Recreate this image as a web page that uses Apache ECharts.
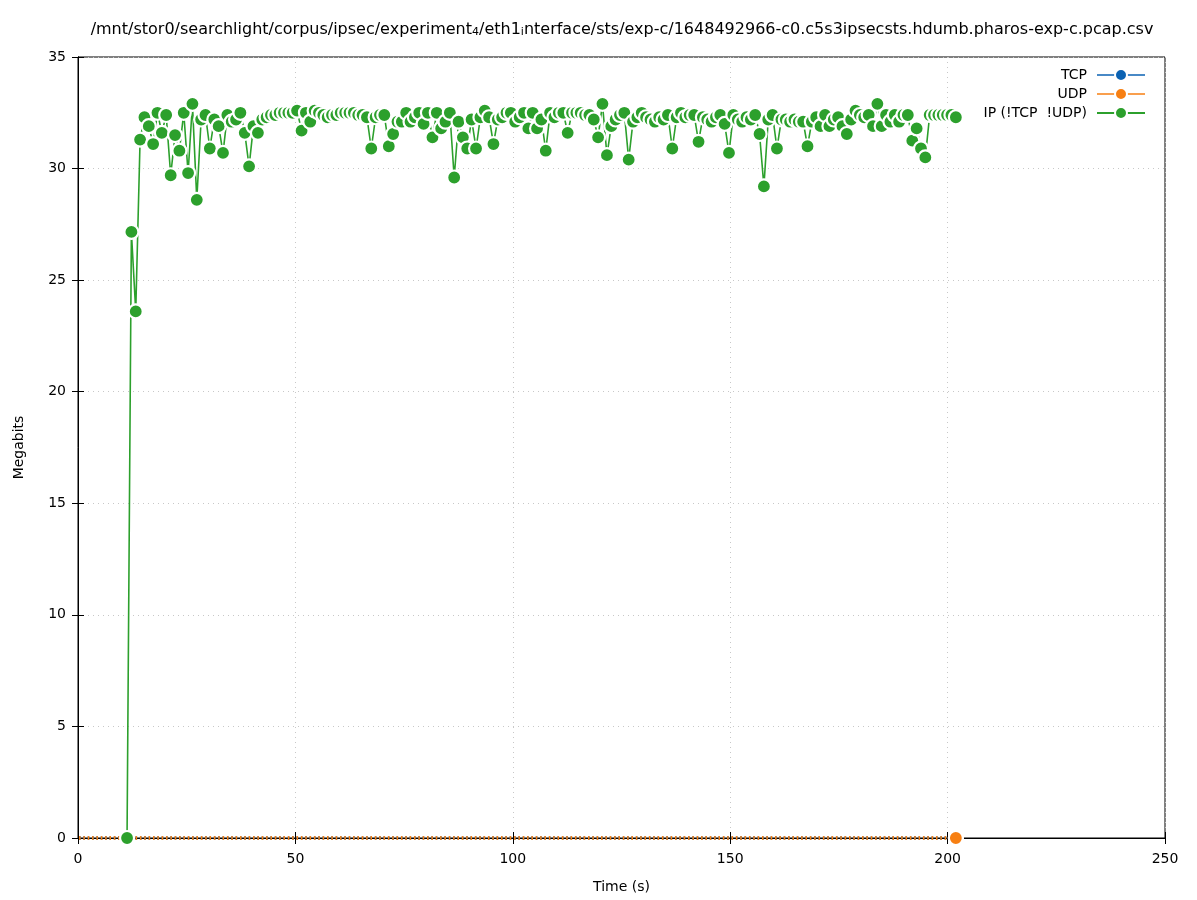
<!DOCTYPE html>
<html><head><meta charset="utf-8">
<script src="https://cdn.jsdelivr.net/npm/echarts@6/dist/echarts.min.js"></script>
<style>html,body{margin:0;padding:0;background:#fff}#c{width:1197px;height:900px}</style>
</head><body><div id="c"></div>
<script>
// Sample times (s) of the IP series
var ipTimes = [
 11.28,12.28,13.28,14.28,15.28,16.28,17.28,18.28,19.28,20.28,
 21.32,22.32,23.32,24.32,25.32,26.32,27.32,28.32,29.32,30.32,
 31.35,32.35,33.35,34.35,35.35,36.35,37.35,38.35,39.35,40.35,
 41.38,42.38,43.38,44.38,45.38,46.38,47.38,48.38,49.38,50.38,
 51.42,52.42,53.42,54.42,55.42,56.42,57.42,58.42,59.42,60.42,
 61.45,62.45,63.45,64.45,65.45,66.45,67.45,68.45,69.45,70.45,
 71.48,72.48,73.48,74.48,75.48,76.48,77.48,78.48,79.48,80.48,
 81.52,82.52,83.52,84.52,85.52,86.52,87.52,88.52,89.52,90.52,
 91.55,92.55,93.55,94.55,95.55,96.55,97.55,98.55,99.55,100.55,
 101.58,102.58,103.58,104.58,105.58,106.58,107.58,108.58,109.58,110.58,
 111.62,112.62,113.62,114.62,115.62,116.62,117.62,118.62,119.62,120.62,
 121.65,122.65,123.65,124.65,125.65,126.65,127.65,128.65,129.65,130.65,
 131.68,132.68,133.68,134.68,135.68,136.68,137.68,138.68,139.68,140.68,
 141.72,142.72,143.72,144.72,145.72,146.72,147.72,148.72,149.72,150.72,
 151.75,152.75,153.75,154.75,155.75,156.75,157.75,158.75,159.75,160.75,
 161.78,162.78,163.78,164.78,165.78,166.78,167.78,168.78,169.78,170.78,
 171.82,172.82,173.82,174.82,175.82,176.82,177.82,178.82,179.82,180.82,
 181.85,182.85,183.85,184.85,185.85,186.85,187.85,188.85,189.85,190.85,
 191.88,192.88,193.88,194.88,195.88,196.88,197.88,198.88,199.88,200.88,
 201.90
];
// IP (!TCP !UDP) megabits per sample
var ipValues = [
 0,27.16,23.6,31.3,32.3,31.9,31.1,32.5,31.6,32.4,
 29.7,31.5,30.8,32.5,29.8,32.9,28.6,32.2,32.4,30.9,
 32.2,31.9,30.7,32.4,32.1,32.2,32.5,31.6,30.1,31.9,
 31.6,32.2,32.3,32.4,32.4,32.5,32.5,32.5,32.5,32.6,
 31.7,32.5,32.1,32.6,32.5,32.4,32.3,32.4,32.4,32.5,
 32.5,32.5,32.5,32.4,32.4,32.3,30.9,32.3,32.4,32.4,
 31.0,31.55,32.1,32.1,32.5,32.1,32.3,32.5,32.0,32.5,
 31.4,32.5,31.8,32.1,32.5,29.6,32.1,31.4,30.9,32.2,
 30.9,32.3,32.6,32.3,31.1,32.2,32.3,32.5,32.5,32.1,
 32.3,32.5,31.8,32.5,31.8,32.2,30.8,32.5,32.3,32.5,
 32.5,31.6,32.5,32.5,32.5,32.4,32.4,32.2,31.4,32.9,
 30.6,31.9,32.2,32.4,32.5,30.4,32.1,32.3,32.5,32.3,
 32.2,32.1,32.3,32.2,32.4,30.9,32.3,32.5,32.3,32.4,
 32.4,31.2,32.3,32.2,32.1,32.3,32.4,32.0,30.7,32.4,
 32.2,32.1,32.3,32.2,32.4,31.55,29.2,32.2,32.4,30.9,
 32.2,32.2,32.1,32.2,32.1,32.1,31.0,32.1,32.3,31.9,
 32.4,31.9,32.2,32.3,31.9,31.55,32.2,32.6,32.4,32.3,
 32.4,31.9,32.9,31.9,32.4,32.1,32.4,32.1,32.4,32.4,
 31.25,31.8,30.9,30.5,32.4,32.4,32.4,32.4,32.4,32.4,
 32.3
];
// Early sample times before IP traffic starts (TCP / UDP only)
var earlyTimes = [0.24,1.24,2.24,3.24,4.24,5.24,6.24,7.24,8.24,9.24,10.24];
// TCP and UDP megabits per sample (all zero)
var tcpValues = [
 0,0,0,0,0,0,0,0,0,0,0,
 0,0,0,0,0,0,0,0,0,0,0,0,0,0,0,0,0,0,0,0,0,0,0,0,0,0,0,0,0,0,0,0,0,0,0,0,0,0,0,0,
 0,0,0,0,0,0,0,0,0,0,0,0,0,0,0,0,0,0,0,0,0,0,0,0,0,0,0,0,0,0,0,0,0,0,0,0,0,0,0,0,
 0,0,0,0,0,0,0,0,0,0,0,0,0,0,0,0,0,0,0,0,0,0,0,0,0,0,0,0,0,0,0,0,0,0,0,0,0,0,0,0,
 0,0,0,0,0,0,0,0,0,0,0,0,0,0,0,0,0,0,0,0,0,0,0,0,0,0,0,0,0,0,0,0,0,0,0,0,0,0,0,0,
 0,0,0,0,0,0,0,0,0,0,0,0,0,0,0,0,0,0,0,0,0,0,0,0,0,0,0,0,0,0,0,0,0,0,0,0,0,0,0,0,
 0
];
var udpValues = tcpValues.slice();
var xTicks = [0,50,100,150,200,250];
var yTicks = [0,5,10,15,20,25,30,35];
var seriesNames = ['TCP','UDP','IP (!TCP  !UDP)'];
var colors = ['#0b62b3','#f77f12','#2ca02c'];

var allTimes = earlyTimes.concat(ipTimes);
function pairs(ts, vs){ var out=[]; for (var i=0;i<ts.length;i++) out.push([ts[i], vs[i]]); return out; }
// samples whose markers are almost entirely hidden by the next sample: marker only on the last one
function pairsLastMarker(ts, vs){
  var out=[];
  for (var i=0;i<ts.length;i++){
    out.push(i === ts.length-1 ? {value:[ts[i], vs[i]]} : {value:[ts[i], vs[i]], symbol:'none'});
  }
  return out;
}

var FONT = 'DejaVu Sans';
var chart = echarts.init(document.getElementById('c'));
function mkSeries(name, color, data, flat){
  return {
    name: name, type: 'line', data: data, xAxisIndex: 0, yAxisIndex: 0,
    symbol: 'circle', symbolSize: 14, showSymbol: true, showAllSymbol: true,
    animation: false, clip: true,
    lineStyle: flat ? {color: color, width: 4, type: [1.5, 2.85]} : {color: color, width: 1.6},
    itemStyle: {color: color, borderColor: '#fff', borderWidth: 2.2}
  };
}
var axisCommon = {
  axisLine: {show: true, lineStyle: {color: '#000', width: 1}},
  axisTick: {show: true, inside: true, length: 6, lineStyle: {color: '#000'}},
};
chart.setOption({
  backgroundColor: '#fff',
  animation: false,
  title: {
    text: '{a|/mnt/stor0/searchlight/corpus/ipsec/experiment}{s|4}{a|/eth1}{s|i}{a|nterface/sts/exp-c/1648492966-c0.c5s3ipsecsts.hdumb.pharos-exp-c.pcap.csv}',
    left: 617, top: 13, textAlign: 'center',
    textStyle: {
      fontWeight: 'normal',
      rich: {
        a: {fontFamily: FONT, fontSize: 16, fontWeight: 'normal', color: '#000', lineHeight: 20, verticalAlign: 'bottom'},
        s: {fontFamily: FONT, fontSize: 11, fontWeight: 'normal', color: '#000', lineHeight: 20, verticalAlign: 'bottom', padding: [8,0,0,0]}
      }
    }
  },
  legend: {
    right: 46, top: 63, orient: 'vertical', align: 'right',
    itemWidth: 48, itemHeight: 15, itemGap: 5,
    textStyle: {fontFamily: FONT, fontSize: 14, color: '#000', padding: [0,5,0,0]},
    data: [
      {name: seriesNames[0], lineStyle: {type: 'solid', width: 1.6, color: colors[0]}},
      {name: seriesNames[1], lineStyle: {type: 'solid', width: 1.6, color: colors[1]}},
      {name: seriesNames[2]}
    ]
  },
  grid: {left: 78, right: 32, top: 57, bottom: 62, show: true, borderColor: '#000', borderWidth: 1, containLabel: false},
  xAxis: [
    Object.assign({type: 'value', min: xTicks[0], max: xTicks[xTicks.length-1], interval: 50,
      name: 'Time (s)', nameLocation: 'middle', nameGap: 42,
      nameTextStyle: {fontFamily: FONT, fontSize: 14, color: '#000'},
      axisLabel: {fontFamily: FONT, fontSize: 14, color: '#000', margin: 14},
      splitLine: {show: true, lineStyle: {color: '#c8c8c8', type: [1,4], width: 1}}
    }, axisCommon),
    Object.assign({type: 'value', position: 'top', min: xTicks[0], max: xTicks[xTicks.length-1], interval: 50,
      axisLabel: {show: false}, splitLine: {show: false}}, axisCommon)
  ],
  yAxis: [
    Object.assign({type: 'value', min: yTicks[0], max: yTicks[yTicks.length-1], interval: 5,
      name: 'Megabits', nameLocation: 'middle', nameGap: 52, nameRotate: 90,
      nameTextStyle: {fontFamily: FONT, fontSize: 14, color: '#000'},
      axisLabel: {fontFamily: FONT, fontSize: 14, color: '#000', margin: 12},
      splitLine: {show: true, lineStyle: {color: '#c8c8c8', type: [1,4], width: 1}}
    }, axisCommon),
    Object.assign({type: 'value', position: 'right', min: yTicks[0], max: yTicks[yTicks.length-1], interval: 5,
      axisLabel: {show: false}, splitLine: {show: false}}, axisCommon)
  ],
  series: [
    mkSeries(seriesNames[0], colors[0], pairsLastMarker(allTimes, tcpValues), true),
    mkSeries(seriesNames[1], colors[1], pairsLastMarker(allTimes, udpValues), true),
    mkSeries(seriesNames[2], colors[2], pairs(ipTimes, ipValues), false)
  ]
});
</script></body></html>
